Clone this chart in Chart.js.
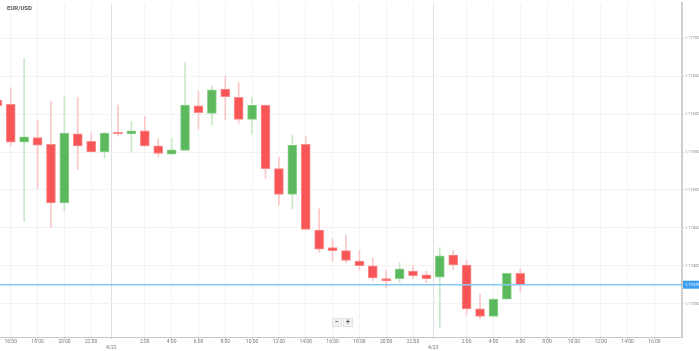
<!DOCTYPE html>
<html>
<head>
<meta charset="utf-8">
<script src="https://cdn.jsdelivr.net/npm/chart.js@4/dist/chart.umd.min.js"></script>
<style>
  body { margin: 0; background: #fff; }
  #wrap { position: relative; width: 699px; height: 351px; }
  #title { position: absolute; left: 7px; top: 4px; font: bold 6px Roboto, sans-serif; color: #555; }
  #zoom { position: absolute; left: 332px; top: 318px; display: flex; gap: 1px; }
  #zoom span { width: 8px; height: 7px; background: #f2f2f2; border: 1px solid #e2e2e2;
               font: bold 7px/7px Roboto, sans-serif; color: #555; text-align: center; }
</style>
</head>
<body>
<div id="wrap">
  <canvas id="c" width="699" height="351"></canvas>
  <div id="title">EUR/USD</div>
  <div id="zoom"><span>−</span><span>+</span></div>
</div>
<script>
// hourly candles, 4/21 15:00 -> 4/23 6:00
const candleTimes = ['15:00','16:00','17:00','18:00','19:00','20:00','21:00','22:00','23:00',
  '0:00','1:00','2:00','3:00','4:00','5:00','6:00','7:00','8:00','9:00','10:00','11:00','12:00',
  '13:00','14:00','15:00','16:00','17:00','18:00','19:00','20:00','21:00','22:00','23:00',
  '0:00','1:00','2:00','3:00','4:00','5:00','6:00'];
const openVals  = [1.17618,1.17613,1.17563,1.17569,1.17560,1.17483,1.17574,1.17564,1.17550,1.17576,
  1.17574,1.17578,1.17558,1.17547,1.17552,1.17611,1.17601,1.17633,1.17622,1.17593,
  1.17612,1.17528,1.17494,1.17560,1.17447,1.17424,1.17420,1.17406,1.17400,1.17383,
  1.17383,1.17393,1.17388,1.17385,1.17414,1.17401,1.17343,1.17333,1.17356,1.17390];
const highVals  = [1.17622,1.17635,1.17674,1.17591,1.17617,1.17623,1.17622,1.17575,1.17576,1.17612,
  1.17590,1.17597,1.17567,1.17567,1.17668,1.17630,1.17637,1.17650,1.17642,1.17622,
  1.17612,1.17543,1.17573,1.17570,1.17475,1.17435,1.17440,1.17420,1.17410,1.17394,
  1.17404,1.17400,1.17393,1.17424,1.17420,1.17407,1.17363,1.17357,1.17390,1.17396];
const lowVals   = [1.17609,1.17558,1.17458,1.17502,1.17451,1.17473,1.17527,1.17550,1.17543,1.17571,
  1.17549,1.17557,1.17543,1.17547,1.17552,1.17580,1.17586,1.17593,1.17588,1.17574,
  1.17515,1.17480,1.17475,1.17448,1.17418,1.17406,1.17404,1.17394,1.17380,1.17371,
  1.17378,1.17383,1.17378,1.17319,1.17395,1.17335,1.17330,1.17332,1.17356,1.17365];
const closeVals = [1.17611,1.17563,1.17570,1.17559,1.17483,1.17575,1.17558,1.17550,1.17575,1.17574,
  1.17578,1.17558,1.17548,1.17553,1.17612,1.17602,1.17632,1.17623,1.17593,1.17612,
  1.17528,1.17494,1.17559,1.17448,1.17422,1.17420,1.17407,1.17400,1.17384,1.17380,
  1.17396,1.17387,1.17383,1.17413,1.17401,1.17343,1.17333,1.17356,1.17390,1.17375];
const currentPrice = 1.17375;

// x axis: hours counted from 4/21 16:00
const hourTicks  = [0,2,4,6,10,12,14,16,18,20,22,24,26,28,30,34,36,38,40,42,44,46,48];
const hourLabels = ['16:00','18:00','20:00','22:00','2:00','4:00','6:00','8:00','10:00','12:00',
  '14:00','16:00','18:00','20:00','22:00','2:00','4:00','6:00','8:00','10:00','12:00','14:00','16:00'];
const dateTicks  = [7.5, 31.5];
const dateLabels = ['4/22', '4/23'];

const RED = '#f85656', RED_EDGE = '#fb8c8c', RED_WICK = '#fcc6c6';
const GREEN = '#5cb85c', GREEN_EDGE = '#8fd18f', GREEN_WICK = '#c9e8c9';

// turn the clock labels into hour offsets
let day = 0, prev = -1;
const xs = candleTimes.map(t => {
  const h = parseInt(t, 10);
  if (h < prev) day++;
  prev = h;
  return day * 24 + h - 16;
});
const up = closeVals.map((c, i) => c >= openVals[i]);

const bodies = xs.map((x, i) => ({ x, y: [Math.min(openVals[i], closeVals[i]), Math.max(openVals[i], closeVals[i])] }));
const wicks = xs.map((x, i) => ({ x, y: [lowVals[i], highVals[i]] }));

const allTicks = hourTicks.concat(dateTicks).sort((a, b) => a - b);

const priceLine = {
  id: 'priceLine',
  afterDatasetsDraw(chart) {
    const { ctx, chartArea } = chart;
    const y = chart.scales.y.getPixelForValue(currentPrice);
    ctx.save();
    ctx.strokeStyle = '#86c8f4';
    ctx.lineWidth = 1.5;
    ctx.beginPath();
    ctx.moveTo(chartArea.left, y);
    ctx.lineTo(chartArea.right, y);
    ctx.stroke();
    ctx.fillStyle = '#3d9ff0';
    ctx.fillRect(chartArea.right + 1, y - 4, 16, 8);
    ctx.fillStyle = '#fff';
    ctx.font = '4px Roboto';
    ctx.textBaseline = 'middle';
    ctx.fillText(currentPrice.toFixed(5), chartArea.right + 3, y);
    ctx.restore();
  }
};

new Chart(document.getElementById('c'), {
  type: 'bar',
  data: {
    datasets: [
      {
        data: bodies,
        backgroundColor: up.map(u => u ? GREEN : RED),
        borderColor: up.map(u => u ? GREEN_EDGE : RED_EDGE),
        borderWidth: 1,
        borderSkipped: false,
        barThickness: 9,
        grouped: false
      },
      {
        data: wicks,
        backgroundColor: up.map(u => u ? GREEN_WICK : RED_WICK),
        borderWidth: 0,
        barThickness: 1,
        grouped: false
      }
    ]
  },
  options: {
    responsive: false,
    animation: false,
    devicePixelRatio: 1,
    layout: { padding: 0 },
    plugins: { legend: { display: false }, tooltip: { enabled: false } },
    scales: {
      x: {
        type: 'linear',
        offset: false,
        min: -0.8,
        max: 50.06,
        afterBuildTicks(scale) { scale.ticks = allTicks.map(v => ({ value: v })); },
        afterFit(scale) { scale.height = 14; },
        ticks: {
          autoSkip: false,
          maxRotation: 0,
          padding: 0,
          font: { family: 'Roboto', size: 5 },
          color: '#777',
          callback(v) {
            const d = dateTicks.indexOf(v);
            if (d >= 0) return ['', dateLabels[d]];
            const h = hourTicks.indexOf(v);
            return h >= 0 ? hourLabels[h] : '';
          }
        },
        grid: {
          offset: false,
          color: c => (c.tick && dateTicks.includes(c.tick.value)) ? '#e0e0e0' : '#f3f3f3',
          tickColor: '#bbb',
          tickLength: 2
        },
        border: { color: '#c8c8c8' }
      },
      y: {
        position: 'right',
        min: 1.17306,
        max: 1.17746,
        afterFit(scale) { scale.width = 17; },
        ticks: {
          stepSize: 0.0005,
          includeBounds: false,
          padding: 1,
          font: { family: 'Roboto', size: 4 },
          color: '#888',
          callback: v => v.toFixed(5)
        },
        grid: { color: '#f3f3f3', tickColor: '#ccc', tickLength: 2 },
        border: { color: '#cfcfcf', width: 2 }
      }
    }
  },
  plugins: [priceLine]
});
</script>
</body>
</html>
